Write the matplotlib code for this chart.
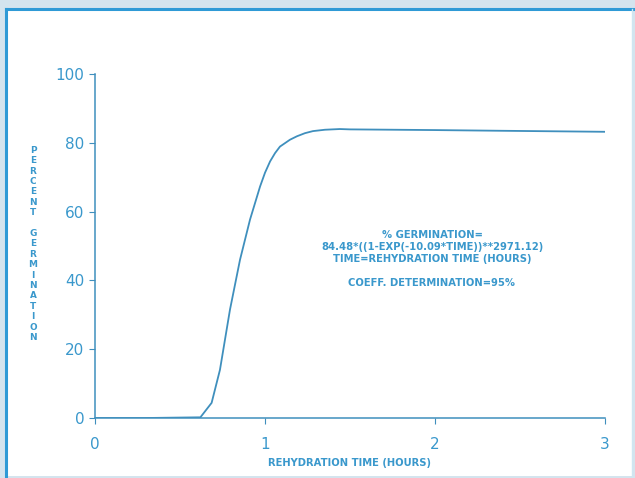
import matplotlib.pyplot as plt
from matplotlib.patches import Rectangle

# values
time_h = [0.0, 0.3, 0.62, 0.686, 0.735, 0.794, 0.853, 0.912, 0.971, 1.0, 1.03,
          1.059, 1.088, 1.147, 1.188, 1.235, 1.282, 1.353, 1.44, 1.5, 2.0, 2.38, 3.0]
germ_pct = [0.0, 0.0, 0.2, 4.4, 14.0, 31.5, 46.0, 57.7, 67.3, 71.3, 74.6,
            77.0, 78.9, 80.9, 81.9, 82.8, 83.4, 83.8, 84.0, 83.9, 83.7, 83.5, 83.2]
xticks = [0, 1, 2, 3]
yticks = [0, 20, 40, 60, 80, 100]
note_lines = ['% GERMINATION=',
              '84.48*((1-EXP(-10.09*TIME))**2971.12)',
              'TIME=REHYDRATION TIME (HOURS)',
              '',
              'COEFF. DETERMINATION=95%']
ylabel = 'PERCENT GERMINATION'
xlabel = 'REHYDRATION TIME (HOURS)'

blue = '#3a98cc'
line_c = '#3f8fbd'

fig = plt.figure(figsize=(6.35, 4.78), dpi=100, facecolor='#d4e4ee')
W, H = 635, 478

# scanned page frame
fig.patches.append(Rectangle((6 / W, 2 / H), 626 / W, 468 / H, transform=fig.transFigure,
                             facecolor='white', edgecolor='none', zorder=-10))
fig.add_artist(plt.Line2D([6 / W, 635 / W], [1 - 9 / H, 1 - 9 / H], transform=fig.transFigure,
                          color='#2f9ad6', lw=2.2))
fig.add_artist(plt.Line2D([6 / W, 6 / W], [0, 1 - 9 / H], transform=fig.transFigure,
                          color='#2f9ad6', lw=2.2))
fig.add_artist(plt.Line2D([632 / W, 632 / W], [0, 1 - 9 / H], transform=fig.transFigure,
                          color='#cfe6f2', lw=1))

ax = fig.add_axes([95 / W, 1 - 418 / H, 510 / W, 344 / H])
ax.set_zorder(5)
ax.set_facecolor('none')
ax.plot(time_h, germ_pct, color=line_c, lw=1.3)

ax.set_xlim(0, 3)
ax.set_ylim(0, 100)
ax.set_xticks(xticks)
ax.set_yticks(yticks)
ax.set_xticklabels([str(v) for v in xticks])
ax.set_yticklabels([str(v) for v in yticks])
for s in ['top', 'right']:
    ax.spines[s].set_visible(False)
for s in ['left', 'bottom']:
    ax.spines[s].set_color(line_c)
    ax.spines[s].set_linewidth(1.1)
ax.tick_params(colors=line_c, length=4, width=0.8, labelcolor=blue, labelsize=11)
ax.tick_params(axis='x', pad=10)

ax.text(0.5, -0.115, xlabel, transform=ax.transAxes, ha='center', va='top',
        fontsize=7.2, fontweight='bold', color=blue)

fig.text(33 / W, 1 - 244 / H, '\n'.join(ylabel), ha='center', va='center',
         fontsize=6.4, fontweight='bold', color=blue, linespacing=1.2)

fig.text(432 / W, 1 - 259 / H, '\n'.join(note_lines), ha='center', va='center',
         fontsize=7.2, fontweight='bold', color=blue, linespacing=1.25)

fig.savefig('out.png', dpi=100, facecolor=fig.get_facecolor())
